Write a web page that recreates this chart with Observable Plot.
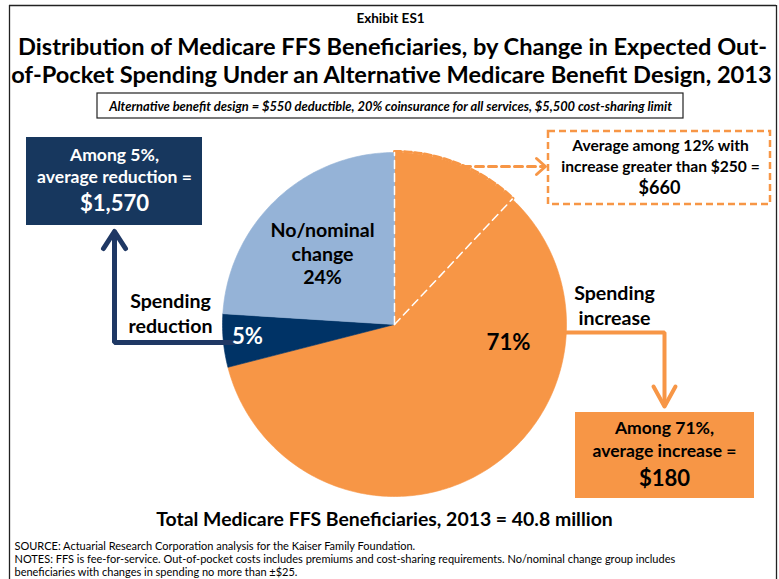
<!DOCTYPE html>
<html><head><meta charset="utf-8">
<script src="https://cdn.jsdelivr.net/npm/d3@7"></script>
<script src="https://cdn.jsdelivr.net/npm/@observablehq/plot@0.6"></script>
<style>body{margin:0;background:#fff;overflow:hidden;}</style>
</head><body><div id="chart"></div>
<script>
// ---- data ----
const categories = ["Spending increase", "Spending reduction", "No/nominal change"];
const shares = [71, 5, 24];
const sliceColors = ["#F79646", "#003366", "#95B3D7"];
const highIncreaseShare = 12;          // share with increase greater than $250
const averageChanges = ["$180", "$1,570", "$660"];
const totalBeneficiaries = 40.8;       // million

// ---- layout ----
const W = 779, H = 579;
const cx = 394, cy = 324, R = 172;
const FONT = "Lato";

// font size fitted to the measured width of the reference lines
const ctx = document.createElement("canvas").getContext("2d");
function fit(lines, widths, weight = "bold", style = "normal") {
  ctx.font = `${style} ${weight} 100px ${FONT}`;
  return d3.mean(lines.map((t, i) => widths[i] / ctx.measureText(t).width * 100));
}

const pie = d3.pie().sort(null).value(d => d.share)(categories.map((c, i) => ({category: c, share: shares[i], color: sliceColors[i]})));

function arcPts(a0, a1, rad, center) {
  const n = Math.max(2, Math.ceil((a1 - a0) / (Math.PI / 180)));
  const pts = [];
  if (center) pts.push([cx, cy]);
  for (let i = 0; i <= n; i++) {
    const a = a0 + (a1 - a0) * i / n;
    pts.push([cx + rad * Math.sin(a), cy - rad * Math.cos(a)]);
  }
  if (center) pts.push([cx, cy]);
  return pts;
}
const X = d => d[0], Y = d => d[1];

const sliceMarks = pie.map(p => Plot.line(arcPts(p.startAngle, p.endAngle, R, true), {x: X, y: Y, fill: p.data.color, stroke: p.data.color, strokeWidth: 0.6}));

const hiEnd = 2 * Math.PI * highIncreaseShare / 100;
const hiRadii = [[[cx, cy], [cx, cy - R]], [[cx, cy], [cx + R * Math.sin(hiEnd), cy - R * Math.cos(hiEnd)]]];

const txt = (data, opts) => Plot.text(data, {x: "x", y: "y", text: "t", fontFamily: FONT, fontWeight: "bold", lineAnchor: "middle", ...opts});
const pct = s => s + "%";

// text lines
const title1 = "Distribution of Medicare FFS Beneficiaries, by Change in Expected Out-";
const title2 = "of-Pocket Spending Under an Alternative Medicare Benefit Design, 2013";
const subtitle = "Alternative benefit design = $550 deductible, 20% coinsurance for all services, $5,500 cost-sharing limit";
const redL = ["Among " + pct(shares[1]) + ",", "average reduction ="];
const incL = ["Among " + pct(shares[0]) + ",", "average increase ="];
const hiL = ["Average among " + pct(highIncreaseShare) + " with", "increase greater than $250 ="];
const noneL = ["No/nominal", "change", pct(shares[2])];
const totalL = "Total Medicare FFS Beneficiaries, 2013 = " + totalBeneficiaries + " million";
const notes = [
  "SOURCE: Actuarial Research Corporation analysis for the Kaiser Family Foundation.",
  "NOTES: FFS is fee-for-service. Out-of-pocket costs includes premiums and cost-sharing requirements. No/nominal change group includes",
  "beneficiaries with changes in spending no more than ±$25."
];

const fsTitle = fit([title1, title2], [748, 765]);
const fsSub = fit([subtitle], [564], "bold", "italic");
const fsBox = fit([...redL, ...incL], [88, 157, 98, 146]);
const fsBig = fit([averageChanges[1], averageChanges[0]], [71, 50]);
const fsHi = fit(hiL, [176, 200]);
const fsHiBig = fit([averageChanges[2]], [42]);
const fsLab = fit([...noneL, "Spending", "reduction", "Spending", "increase"], [106, 62, 37, 82, 84, 82, 72]);
const fs5 = fit([pct(shares[1])], [31]);
const fs71 = fit([pct(shares[0])], [44]);
const fsTotal = fit([totalL], [457]);
const fsNotes = Math.min(11, fit([notes[1]], [709], "normal"));

const chart = Plot.plot({
  width: W, height: H, margin: 0,
  x: {domain: [0, W], range: [0, W], axis: null},
  y: {domain: [0, H], range: [0, H], axis: null},
  style: {fontFamily: FONT, background: "white", overflow: "hidden"},
  marks: [
    // frame
    Plot.ruleX([9, 776], {y1: 5, y2: H, stroke: "#222", strokeWidth: 1.3}),
    Plot.ruleY([5], {x1: 9, x2: 776, stroke: "#222", strokeWidth: 1.3}),
    // titles
    txt([{x: 390, y: 18, t: "Exhibit ES1"}], {fontSize: 13.5}),
    txt([{x: 392, y: 47, t: title1}, {x: 391, y: 75, t: title2}], {fontSize: fsTitle}),
    Plot.rect([{}], {x1: 97, x2: 683, y1: 93, y2: 118, stroke: "#222", strokeWidth: 1.2, fill: "white"}),
    txt([{x: 390, y: 106, t: subtitle}], {fontSize: fsSub, fontStyle: "italic"}),
    // pie
    ...sliceMarks,
    Plot.line(arcPts(0, hiEnd, R + 1, false), {x: X, y: Y, stroke: "#F79646", strokeWidth: 3, strokeDasharray: "7,3"}),
    ...hiRadii.map(seg => Plot.line(seg, {x: X, y: Y, stroke: "white", strokeWidth: 1.5, strokeDasharray: "8,5"})),
    // left annotation
    Plot.rect([{}], {x1: 26, x2: 202, y1: 137, y2: 225, fill: "#17375E"}),
    txt([{x: 114, y: 155, t: redL[0]}, {x: 114, y: 177, t: redL[1]}], {fontSize: fsBox, fill: "white"}),
    txt([{x: 114, y: 203, t: averageChanges[1]}], {fontSize: fsBig, fill: "white"}),
    Plot.line([[233, 342], [114, 342], [114, 232]], {x: X, y: Y, stroke: "#1F3864", strokeWidth: 5, strokeLinejoin: "miter"}),
    Plot.line([[103, 248], [114, 231], [125, 248]], {x: X, y: Y, stroke: "#1F3864", strokeWidth: 5, strokeLinecap: "round", strokeLinejoin: "round"}),
    txt([{x: 170, y: 301, t: "Spending"}, {x: 170, y: 326, t: "reduction"}], {fontSize: fsLab}),
    txt([{x: 247, y: 336, t: pct(shares[1])}], {fontSize: fs5, fill: "white"}),
    // middle label
    txt([{x: 322, y: 230, t: noneL[0]}, {x: 322, y: 254, t: noneL[1]}, {x: 322, y: 277, t: noneL[2]}], {fontSize: fsLab}),
    txt([{x: 508, y: 342, t: pct(shares[0])}], {fontSize: fs71}),
    // right annotation
    txt([{x: 614, y: 293, t: "Spending"}, {x: 614, y: 318, t: "increase"}], {fontSize: fsLab}),
    Plot.line([[565, 332], [664, 332], [664, 405]], {x: X, y: Y, stroke: "#F79646", strokeWidth: 4, strokeLinejoin: "miter"}),
    Plot.line([[653, 386], [664, 406], [675, 386]], {x: X, y: Y, stroke: "#F79646", strokeWidth: 4, strokeLinecap: "round", strokeLinejoin: "round"}),
    Plot.rect([{}], {x1: 575, x2: 754, y1: 412, y2: 498, fill: "#F79646"}),
    txt([{x: 664, y: 428, t: incL[0]}, {x: 664, y: 451, t: incL[1]}], {fontSize: fsBox, fill: "black"}),
    txt([{x: 664, y: 478, t: averageChanges[0]}], {fontSize: fsBig, fill: "black"}),
    // dashed annotation
    Plot.rect([{}], {x1: 548, x2: 770, y1: 131, y2: 204, fill: "white", stroke: "#F79646", strokeWidth: 2.5, strokeDasharray: "7,4"}),
    Plot.line([[462, 166], [544, 166]], {x: X, y: Y, stroke: "#F79646", strokeWidth: 3, strokeDasharray: "8,5"}),
    Plot.line([[536, 158], [545, 166], [536, 174]], {x: X, y: Y, stroke: "#F79646", strokeWidth: 3, strokeLinecap: "round"}),
    txt([{x: 660, y: 145, t: hiL[0]}, {x: 660, y: 166, t: hiL[1]}], {fontSize: fsHi}),
    txt([{x: 659, y: 188, t: averageChanges[2]}], {fontSize: fsHiBig}),
    // total and notes
    txt([{x: 384, y: 519, t: totalL}], {fontSize: fsTotal}),
    Plot.text(notes.map((t, i) => ({x: 14, y: 546 + i * 13, t})),
      {x: "x", y: "y", text: "t", fontFamily: FONT, fontSize: fsNotes, textAnchor: "start", lineAnchor: "middle", fill: "black"})
  ]
});
document.getElementById("chart").appendChild(chart);
</script>
</body></html>
